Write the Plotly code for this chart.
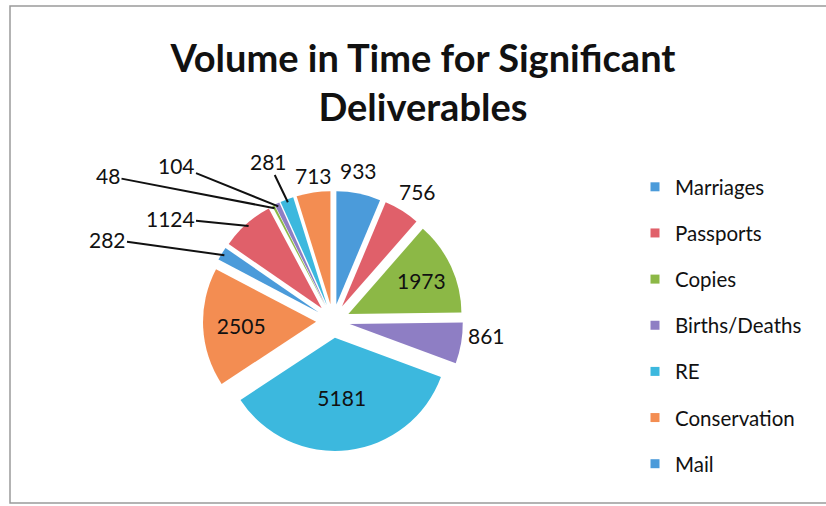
import math
import plotly.graph_objects as go

# Data (clockwise from 12 o'clock)
slice_values = [933, 756, 1973, 861, 5181, 2505, 282, 1124, 48, 104, 281, 713]
legend_names = ["Marriages", "Passports", "Copies", "Births/Deaths", "RE", "Conservation", "Mail"]
palette = ["#4B9BDA", "#E0606A", "#8CB846", "#8E7EC4", "#3CB8DE", "#F38D52"]
# how each slice's value label is drawn
label_mode = ["free", "free", "inside", "free", "inside", "inside",
              "leader", "leader", "leader", "leader", "leader", "free"]
# where outside labels sit (pixels from the top-left of the chart)
label_px = {0: (358, 170), 1: (418, 191), 3: (486, 350), 11: (313, 161),
            6: (107, 239), 7: (170, 218), 8: (108, 176), 9: (176, 165), 10: (268, 161)}

W, H = 826, 506
FONT = "Lato, 'Open Sans', sans-serif"

slice_colors = [palette[i % len(palette)] for i in range(len(slice_values))]
legend_colors = [palette[i % len(palette)] for i in range(len(legend_names))]

# pie placement (pixels)
CX, CY, HALF = 333, 321, 130
PULL = 0.15

text_pos = ["inside" if m == "inside" else "none" for m in label_mode]

fig = go.Figure()
fig.add_trace(go.Pie(
    values=slice_values,
    sort=False,
    direction="clockwise",
    rotation=0,
    marker=dict(colors=slice_colors, line=dict(color="white", width=0)),
    pull=PULL,
    textinfo="value",
    textposition=text_pos,
    textfont=dict(family=FONT, size=21, color="#111111"),
    showlegend=False,
    hoverinfo="value",
    domain=dict(x=[(CX - HALF) / W, (CX + HALF) / W],
                y=[1 - (CY + HALF) / H, 1 - (CY - HALF) / H]),
))

# outside labels; leader-line tips are computed from each slice's mid-angle
total = sum(slice_values)
r_outer = HALF - 3
annotations = []
cum = 0
for i, v in enumerate(slice_values):
    mid = (cum + v / 2) / total
    cum += v
    if label_mode[i] == "inside":
        continue
    lx, ly = label_px[i]
    font = dict(family=FONT, size=21, color="#111111")
    if label_mode[i] == "free":
        annotations.append(dict(x=lx / W, y=1 - ly / H, xref="paper", yref="paper",
                                text=str(v), showarrow=False, font=font))
        continue
    th = 2 * math.pi * mid
    tx = CX + r_outer * math.sin(th)
    ty = CY - r_outer * math.cos(th)
    annotations.append(dict(
        x=tx / W, y=1 - ty / H, xref="paper", yref="paper",
        ax=lx - tx, ay=ly - ty, axref="pixel", ayref="pixel",
        text=str(v), showarrow=True, arrowhead=0, arrowwidth=2,
        arrowcolor="#111111", standoff=0, font=font,
    ))

for i, (name, col) in enumerate(zip(legend_names, legend_colors)):
    fig.add_trace(go.Scatter(
        x=[None], y=[None], mode="markers", name=name,
        legendgroup=f"g{i}",
        marker=dict(symbol="square", size=9, color=col),
    ))

fig.update_layout(
    width=W, height=H,
    margin=dict(l=0, r=0, t=0, b=0),
    paper_bgcolor="white", plot_bgcolor="white",
    xaxis=dict(visible=False), yaxis=dict(visible=False),
    title=dict(
        text="<b>Volume in Time for Significant<br>Deliverables</b>",
        x=0.512, xanchor="center", y=1 - 72 / H, yanchor="middle", yref="paper",
        font=dict(family=FONT, size=38, color="#111111"),
    ),
    legend=dict(
        x=635 / W, y=0.670, xanchor="left", yanchor="top",
        font=dict(family=FONT, size=20.5, color="#111111"),
        tracegroupgap=16.5, itemwidth=30,
        bgcolor="rgba(0,0,0,0)",
    ),
    annotations=annotations,
    shapes=[dict(type="rect", xref="paper", yref="paper",
                 x0=10 / W, x1=1.02, y0=1 - 503 / H, y1=1 - 6 / H,
                 line=dict(color="#9a9a9a", width=1.5))],
)

fig.write_html("out.html")
